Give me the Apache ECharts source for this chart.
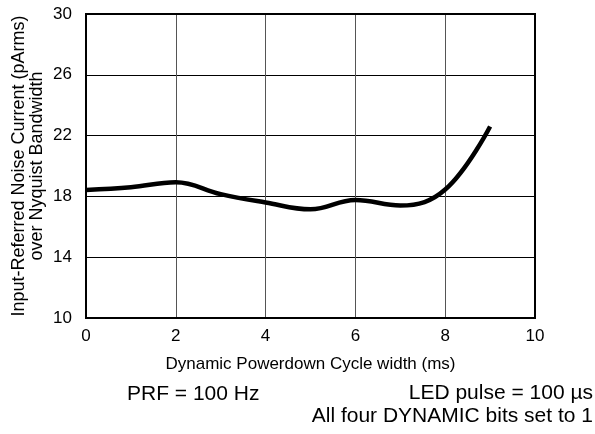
<!DOCTYPE html>
<html><head><meta charset="utf-8">
<script src="https://cdn.jsdelivr.net/npm/echarts@6/dist/echarts.min.js"></script>
<style>html,body{margin:0;padding:0;background:#fff}#c{width:595px;height:434px}</style>
</head><body><div id="c"></div>
<script>
const xValues = [0, 1, 2, 3, 4, 5, 6, 7, 8, 9];
const noise = [18.42, 18.6, 18.93, 18.15, 17.6, 17.15, 17.76, 17.4, 18.45, 22.6];
const xTicks = [0, 2, 4, 6, 8, 10];
const yTicks = [10, 14, 18, 22, 26, 30];
const FONT = '"Liberation Sans", Arial, sans-serif';
const chart = echarts.init(document.getElementById('c'), null, {renderer: 'canvas'});
chart.setOption({
  animation: false,
  grid: {left: 86, right: 60, top: 14, bottom: 116},
  xAxis: {
    type: 'value', min: 0, max: 10, interval: 2,
    name: 'Dynamic Powerdown Cycle width (ms)', nameLocation: 'middle', nameGap: 38,
    nameTextStyle: {fontFamily: FONT, fontSize: 17, color: '#000'},
    axisLine: {show: false}, axisTick: {show: false},
    axisLabel: {fontFamily: FONT, fontSize: 17, color: '#000', margin: 10},
    splitLine: {show: true, lineStyle: {color: '#555', width: 1}}
  },
  yAxis: {
    type: 'value', min: 10, max: 30, interval: 4,
    axisLine: {show: false}, axisTick: {show: false},
    axisLabel: {fontFamily: FONT, fontSize: 17, color: '#000', margin: 14},
    splitLine: {show: true, lineStyle: {color: '#000', width: 1}}
  },
  series: [{
    type: 'line', data: xValues.map((x, i) => [x, noise[i]]),
    smooth: 0.4, showSymbol: false,
    lineStyle: {color: '#000', width: 4.5}
  }],
  graphic: [
    {type: 'rect', shape: {x: 86, y: 14, width: 449, height: 304}, style: {fill: 'none', stroke: '#000', lineWidth: 2}, z: 100},
    {type: 'text', x: 28, y: 166, rotation: Math.PI / 2, style: {text: 'Input-Referred Noise Current (pArms)\nover Nyquist Bandwidth', font: '18px ' + FONT, fill: '#000', align: 'center', verticalAlign: 'middle', lineHeight: 18}},
    {type: 'text', x: 127, y: 394, style: {text: 'PRF = 100 Hz', font: '21px ' + FONT, fill: '#000', verticalAlign: 'middle'}},
    {type: 'text', x: 593, y: 393, style: {text: 'LED pulse = 100 µs', font: '21px ' + FONT, fill: '#000', align: 'right', verticalAlign: 'middle'}},
    {type: 'text', x: 593, y: 416, style: {text: 'All four DYNAMIC bits set to 1', font: '21px ' + FONT, fill: '#000', align: 'right', verticalAlign: 'middle'}}
  ]
});
</script></body></html>
